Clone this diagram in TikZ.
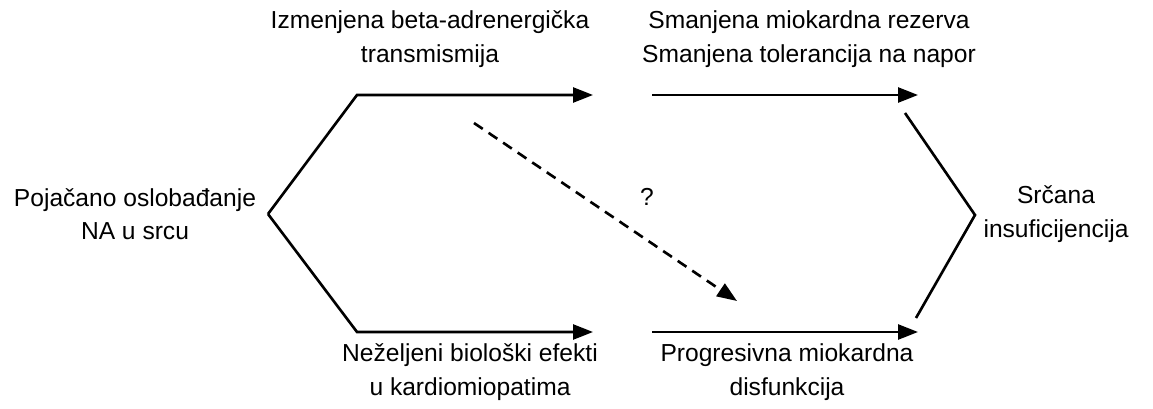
\documentclass[tikz,border=0pt]{standalone}
\usepackage{fontspec}
\setmainfont{Liberation Sans}
\usetikzlibrary{arrows.meta,positioning}

\begin{document}
\begin{tikzpicture}[x=0.02cm, y=-0.02cm, line width=1.5pt, >={Triangle[length=0.4cm,width=0.3cm]}]
   \useasboundingbox (0,0) rectangle (1153,409);
   \begin{scope}[every node/.style={align=center, inner sep=0pt, font=\fontsize{14}{19}\selectfont}]
    \node (na) at (135,214) {Pojačano oslobađanje\\NA u srcu};
    \node (beta) at (430,39) {Izmenjena beta-adrenergička\\transmismija};
    \node (rez) at (809,39) {Smanjena miokardna rezerva\\Smanjena tolerancija na napor};
    \node (efekti) at (470,372) {Neželjeni biološki efekti\\u kardiomiopatima};
    \node (disf) at (787,372) {Progresivna miokardna\\disfunkcija};
    \node (si) at (1056,214) {Srčana\\insuficijencija};
    \node (q) at (647,197) {?};
   \end{scope}
   % branch points
   \coordinate (l) at (268,214);
   \coordinate (tl) at (357,95);
   \coordinate (bl) at (357,332);
   \coordinate (t1) at (593,95);
   \coordinate (b1) at (593,332);
   \coordinate (t2) at (652,95);
   \coordinate (b2) at (652,332);
   \coordinate (t3) at (918,95);
   \coordinate (b3) at (918,332);
   \coordinate (ru) at (905,113);
   \coordinate (rl) at (916,318);
   \coordinate (r) at (975,215);
   \coordinate (ds) at (474,123);
   \coordinate (de) at (737,301);
   \begin{scope}[->]
    \draw (l) -- (tl) -- (t1);
    \draw (l) -- (bl) -- (b1);
    \draw (t2) -- (t3);
    \draw (b2) -- (b3);
    \draw [dash pattern=on 6pt off 4pt] (ds) -- (de);
   \end{scope}
   \draw (ru) -- (r) -- (rl);
\end{tikzpicture}
\end{document}
